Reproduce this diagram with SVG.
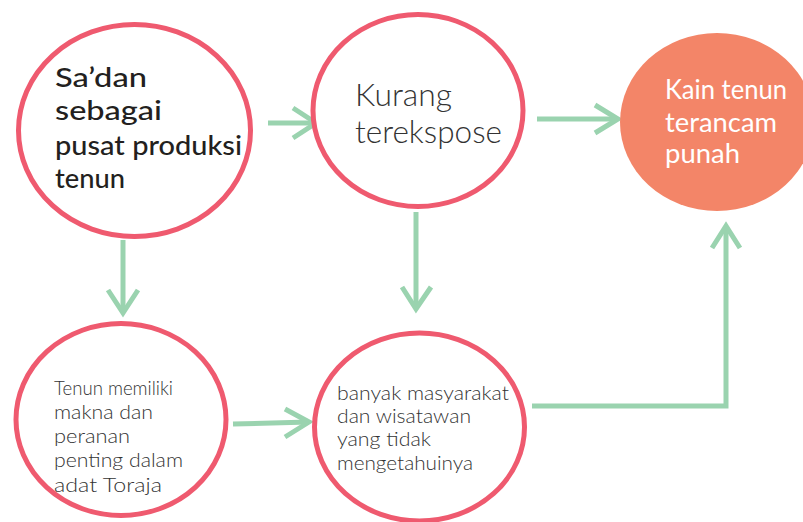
<svg xmlns="http://www.w3.org/2000/svg" width="803" height="522" viewBox="0 0 803 522">
<style>
.ring{fill:#ffffff;stroke:#EF5A6F;stroke-width:5}
.hot{fill:#F38568;stroke:none}
.conn{fill:none;stroke:#9AD3AF;stroke-width:5;stroke-linecap:butt;stroke-linejoin:miter}
.t{font-family:Lato,"Liberation Sans",sans-serif}
.bold{font-size:27px;font-weight:500;fill:#231F20}
.thin{font-weight:300;fill:#333333}
.white{font-weight:400;fill:#ffffff;font-size:27px}
</style>
<rect width="803" height="522" fill="#ffffff"/>
<g id="connectors">
  <path class="conn" d="M268,123 H316"/>
  <path class="conn" d="M293,108 L316,123 L293,138"/>
  <path class="conn" d="M537,119 H618"/>
  <path class="conn" d="M595,105 L618,119 L595,133"/>
  <path class="conn" d="M123,240 V313"/>
  <path class="conn" d="M108,290 L123,313 L138,290"/>
  <path class="conn" d="M416,212 V309"/>
  <path class="conn" d="M402,287 L416,309 L431,287"/>
  <path class="conn" d="M233,424 L309,422"/>
  <path class="conn" d="M285,409 L309,422 L285,437"/>
  <path class="conn" d="M532,406 H726 V226"/>
  <path class="conn" d="M712,248 L726,226 L740,248"/>
</g>
<g id="node-sadan">
  <ellipse class="ring" cx="134.5" cy="130.5" rx="116" ry="106"/>
  <text class="t bold" x="55" y="87" textLength="92" lengthAdjust="spacingAndGlyphs">Sa’dan</text>
  <text class="t bold" x="55" y="120" textLength="107" lengthAdjust="spacingAndGlyphs">sebagai</text>
  <text class="t bold" x="55" y="155" textLength="187" lengthAdjust="spacingAndGlyphs">pusat produksi</text>
  <text class="t bold" x="55" y="188" textLength="70" lengthAdjust="spacingAndGlyphs">tenun</text>
</g>
<g id="node-kurang">
  <ellipse class="ring" cx="418" cy="110.5" rx="105" ry="96"/>
  <text class="t thin" font-size="31" x="355" y="106" textLength="97" lengthAdjust="spacingAndGlyphs">Kurang</text>
  <text class="t thin" font-size="31" x="355" y="143" textLength="147" lengthAdjust="spacingAndGlyphs">terekspose</text>
</g>
<g id="node-kain">
  <ellipse class="hot" cx="717" cy="122" rx="97" ry="89"/>
  <text class="t white" x="665" y="99" textLength="122" lengthAdjust="spacingAndGlyphs">Kain tenun</text>
  <text class="t white" x="665" y="132" textLength="112" lengthAdjust="spacingAndGlyphs">terancam</text>
  <text class="t white" x="665" y="163" textLength="75" lengthAdjust="spacingAndGlyphs">punah</text>
</g>
<g id="node-tenun">
  <ellipse class="ring" cx="121" cy="419.5" rx="105" ry="96"/>
  <text class="t thin" font-size="20" x="54" y="395" textLength="119" lengthAdjust="spacingAndGlyphs">Tenun memiliki</text>
  <text class="t thin" font-size="20" x="54" y="419" textLength="99" lengthAdjust="spacingAndGlyphs">makna dan</text>
  <text class="t thin" font-size="20" x="54" y="443" textLength="76" lengthAdjust="spacingAndGlyphs">peranan</text>
  <text class="t thin" font-size="20" x="54" y="467" textLength="129" lengthAdjust="spacingAndGlyphs">penting dalam</text>
  <text class="t thin" font-size="20" x="54" y="492" textLength="108" lengthAdjust="spacingAndGlyphs">adat Toraja</text>
</g>
<g id="node-banyak">
  <ellipse class="ring" cx="419.5" cy="427" rx="105" ry="94"/>
  <text class="t thin" font-size="20" x="337" y="400" textLength="172" lengthAdjust="spacingAndGlyphs">banyak masyarakat</text>
  <text class="t thin" font-size="20" x="337" y="423" textLength="134" lengthAdjust="spacingAndGlyphs">dan wisatawan</text>
  <text class="t thin" font-size="20" x="337" y="446" textLength="94" lengthAdjust="spacingAndGlyphs">yang tidak</text>
  <text class="t thin" font-size="20" x="337" y="470" textLength="136" lengthAdjust="spacingAndGlyphs">mengetahuinya</text>
</g>
</svg>
